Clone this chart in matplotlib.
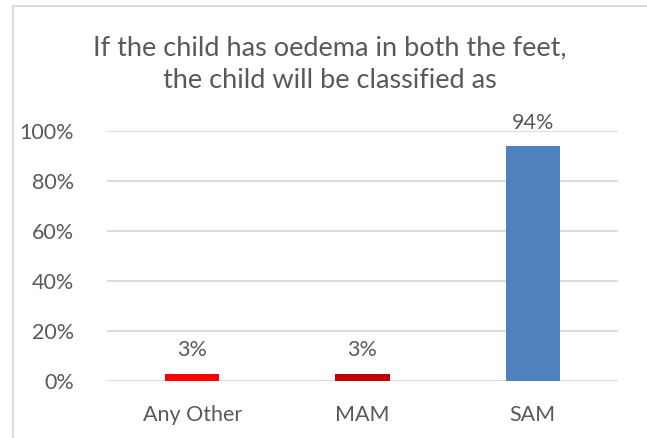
import matplotlib
matplotlib.use("Agg")
import matplotlib.pyplot as plt
from matplotlib.lines import Line2D
from matplotlib.ticker import FuncFormatter

categories = ["Any Other", "MAM", "SAM"]
values = [3, 3, 94]
bar_colors = ["#FF0000", "#C00000", "#4F81BD"]
title = "If the child has oedema in both the feet,\nthe child will be classified as"

plt.rcParams["font.family"] = ["Lato", "DejaVu Sans"]
text_color = "#595959"

fig = plt.figure(figsize=(6.47, 4.38), dpi=100)
ax = fig.add_axes([107 / 647, 1 - 381 / 438, 511 / 647, 250 / 438])

x = list(range(len(categories)))
ax.bar(x, values, width=0.32, color=bar_colors, zorder=3)
for xi, v in zip(x, values):
    ax.annotate(f"{v}%", xy=(xi, v), xytext=(0, 12.5), textcoords="offset points",
                ha="center", va="baseline", fontsize=15.5, color=text_color)

ax.set_xlim(-0.5, len(categories) - 0.5)
ax.set_ylim(0, 100)
ax.set_yticks(range(0, 101, 20))
ax.yaxis.set_major_formatter(FuncFormatter(lambda v, p: f"{int(v)}%"))
ax.set_xticks(x)
ax.set_xticklabels(categories)
ax.tick_params(axis="both", length=0, labelsize=15.5, labelcolor=text_color)
ax.tick_params(axis="y", pad=24)
ax.tick_params(axis="x", pad=17)
ax.grid(axis="y", color="#D9D9D9", linewidth=1.3, zorder=0)
for s in ax.spines.values():
    s.set_visible(False)

fig.text(330 / 647, 1 - 64 / 438, title, ha="center", va="center",
         fontsize=19.5, color=text_color, linespacing=1.35)

# chart frame (top and left edges)
fig.add_artist(Line2D([13 / 647, 1], [1 - 5.5 / 438, 1 - 5.5 / 438],
                      color="#D9D9D9", linewidth=1.3, transform=fig.transFigure))
fig.add_artist(Line2D([13 / 647, 13 / 647], [0, 1 - 5.5 / 438],
                      color="#D9D9D9", linewidth=1.3, transform=fig.transFigure))

fig.savefig("out.png", dpi=100)
